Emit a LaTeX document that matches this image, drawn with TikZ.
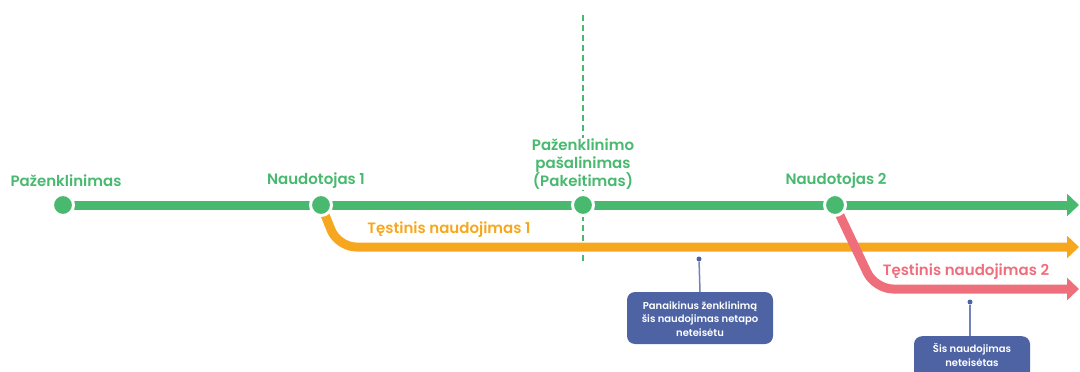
\documentclass[tikz,border=0pt]{standalone}
\usepackage{fontspec}
\setmainfont{Poppins}[UprightFont=* Medium, BoldFont=* SemiBold]
\usetikzlibrary{arrows.meta}
\definecolor{cgreen}{HTML}{48B96F}
\definecolor{corange}{HTML}{F6A71E}
\definecolor{cred}{HTML}{EE6E7B}
\definecolor{cblue}{HTML}{4E63A3}
\definecolor{cbline}{HTML}{7282BA}
\tikzset{
  dotnode/.style={circle, fill=cgreen, draw=white, line width=3pt, minimum size=21pt, inner sep=0pt},
  track/.style={line width=9pt, -{Triangle[length=12pt,width=22pt]}},
  lbl/.style={font=\bfseries\fontsize{15}{18}\selectfont, text=cgreen, align=center, inner sep=1pt},
  boxnode/.style={fill=cblue, rounded corners=8pt, minimum width=146pt, inner sep=0pt},
  boxtext/.style={text=white, font=\bfseries\fontsize{10}{13.5}\selectfont, align=center, inner sep=0pt},
  pin/.style={circle, fill=cblue, minimum size=5pt, inner sep=0pt},
  pinline/.style={draw=cbline, line width=1.5pt},
}
\begin{document}
\begin{tikzpicture}[x=1pt,y=-1pt]
\useasboundingbox (0,0) rectangle (1080,372);
% dashed vertical
\coordinate (dtop) at (583,15);
\coordinate (dbot) at (583,262);
\draw[cgreen, line width=1.2pt, dash pattern=on 6pt off 4pt] (dtop) -- (dbot);
% nodes on green line
\node[dotnode] (d1) at (63,205) {};
\node[dotnode] (d2) at (321,205) {};
\node[dotnode] (d3) at (583,205) {};
\node[dotnode] (d4) at (835,205) {};
\coordinate (gend) at (1079,205);
\coordinate (obend) at (338,247);
\coordinate (oend) at (1079,247);
\coordinate (rbend) at (875,289);
\coordinate (rend) at (1079,289);
% orange
\draw[track, corange, rounded corners=18pt] (d2.center) -- (obend) -- (oend);
% red
\draw[track, cred, rounded corners=18pt] (d4.center) -- (rbend) -- (rend);
% green
\draw[track, cgreen] (d1.center) -- (gend);
% redraw dots on top
\foreach \n/\p in {d1/{(63,205)},d2/{(321,205)},d3/{(583,205)},d4/{(835,205)}}{
  \node[dotnode] at \p {};
}
% labels
\node[lbl] (l1) at (66,181) {Paženklinimas};
\node[lbl] (l2) at (316,181) {Naudotojas 1};
\node[lbl, fill=white] (l3) at (583,164) {Paženklinimo\\pašalinimas\\(Pakeitimas)};
\node[lbl] (l4) at (836,181) {Naudotojas 2};
\node[lbl, text=corange] (l5) at (449,230) {Tęstinis naudojimas 1};
\node[lbl, text=cred] (l6) at (966,272) {Tęstinis naudojimas 2};
% callout 1
\node[pin] (p1) at (699,259) {};
\node[boxnode, minimum height=52pt] (b1) at (700,318) {};
\node[boxtext] (t1) at (700,319) {Panaikinus ženklinimą\\šis naudojimas netapo\\neteisėtu};
\draw[pinline] (p1) -- (b1.north);
% callout 2
\node[pin] (p2) at (970,302) {};
\node[boxnode, minimum width=116pt, minimum height=50pt, anchor=north] (b2) at (972,336) {};
\node[boxtext] (t2) at (972,355) {Šis naudojimas\\neteisėtas};
\draw[pinline] (p2) -- (b2.north -| p2);
\end{tikzpicture}
\end{document}
